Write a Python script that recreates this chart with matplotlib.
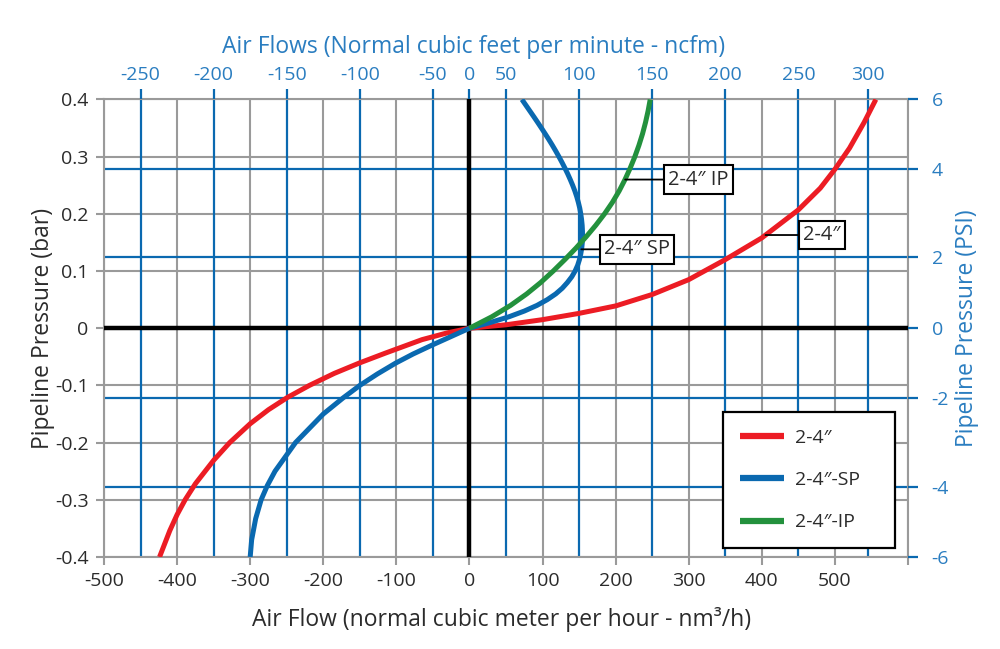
import matplotlib
matplotlib.use("Agg")
import matplotlib.pyplot as plt

plt.rcParams['font.family'] = ['Open Sans', 'DejaVu Sans']

# ---- data (flow in nm3/h, pressure in bar) ----
red_f = [-424, -417, -410, -400, -389, -375, -350, -328, -300, -275, -249, -219, -185, -151, -115, -65, -30,
         0, 50, 100, 150, 200, 250, 300, 350, 400, 450, 480, 500, 520, 540, 556]
red_p = [-0.4, -0.377, -0.354, -0.326, -0.3, -0.272, -0.231, -0.2, -0.167, -0.1425, -0.121, -0.1, -0.079,
         -0.061, -0.0435, -0.02, -0.008, 0, 0.006, 0.015, 0.026, 0.039, 0.059, 0.085, 0.12, 0.158, 0.207,
         0.245, 0.278, 0.315, 0.36, 0.4]

blue_p = [-0.4, -0.37, -0.333, -0.3, -0.275, -0.25, -0.2, -0.15, -0.122, -0.1, -0.08, -0.061, -0.045,
          -0.03, -0.015, 0, 0.01, 0.02, 0.03, 0.04, 0.05, 0.06, 0.07, 0.08, 0.09, 0.1, 0.11, 0.12,
          0.13, 0.14, 0.15, 0.16, 0.17, 0.18, 0.19, 0.2, 0.21, 0.22, 0.23, 0.24, 0.25, 0.26, 0.27,
          0.28, 0.29, 0.3, 0.31, 0.32, 0.33, 0.34, 0.35, 0.36, 0.37, 0.38, 0.39, 0.4]
blue_f = [-300, -298, -292.5, -285, -276.5, -266, -238, -200, -173, -150, -126, -101, -77,
          -52, -26, 0, 28.5, 54, 75, 92.5, 106.5, 118, 127, 134, 140, 144.5, 148, 150.5,
          152.3, 153.6, 154.4, 154.7, 154.6, 154.2, 153.4, 152.3, 150.9, 149, 146.8, 144.2, 141.2, 137.9, 134.4,
          130.6, 126.6, 122.4, 118, 113.4, 108.6, 103.6, 98.5, 93.3, 88, 82.6, 77.2, 71.8]

green_p = [0, 0.02, 0.04, 0.06, 0.08, 0.1, 0.12, 0.14, 0.16, 0.18, 0.2, 0.22, 0.24, 0.26, 0.28,
           0.3, 0.32, 0.34, 0.36, 0.38, 0.4]
green_f = [0, 30.5, 56.3, 78.3, 97.5, 114.6, 130.5, 145.6, 159.7, 172.8, 184.8, 195.5, 204.8, 212.8, 219.9,
           226.3, 231.9, 236.8, 240.9, 244.4, 247.3]

series_names = ['2-4\u2033', '2-4\u2033-SP', '2-4\u2033-IP']
label_texts = ['2-4\u2033', '2-4\u2033 SP', '2-4\u2033 IP']

x_ticks = [-500, -400, -300, -200, -100, 0, 100, 200, 300, 400, 500, 600]
x_labels = ['-500', '-400', '-300', '-200', '-100', '0', '100', '200', '300', '400', '500', '']
y_ticks = [-0.4, -0.3, -0.2, -0.1, 0, 0.1, 0.2, 0.3, 0.4]
y_labels = ['-0.4', '-0.3', '-0.2', '-0.1', '0', '0.1', '0.2', '0.3', '0.4']

# secondary scales as drawn on the chart
ncfm_pos = [-450, -350, -250, -150, -50, 0, 50, 150, 250, 350, 450, 545]
ncfm_labels = ['-250', '-200', '-150', '-100', '-50', '0', '50', '100', '150', '200', '250', '300']
psi_pos = [-0.4, -0.278, -0.1225, 0, 0.125, 0.279, 0.4]
psi_labels = ['-6', '-4', '-2', '0', '2', '4', '6']

RED = '#ec1c24'
BLUE = '#0a69b0'
GREEN = '#23913d'
GRAY = '#9a9a9a'
BLUE_TXT = '#2a7dc0'
TXT = '#2b2b2b'
FS_TICK = 14
FS_LAB = 16.5

fig = plt.figure(figsize=(10, 6.49), dpi=100)
ax = fig.add_axes([0.104, 0.1418, 0.804, 0.7049])
ax.set_xlim(-500, 600)
ax.set_ylim(-0.4, 0.4)

# gray grid
for xv in x_ticks:
    ax.axvline(xv, color=GRAY, lw=1.5, zorder=1)
for yv in y_ticks:
    ax.axhline(yv, color=GRAY, lw=1.5, zorder=1)
# blue grid
for xv in ncfm_pos:
    if xv != 0:
        ax.axvline(xv, color=BLUE, lw=1.6, zorder=2)
for yv in psi_pos:
    if yv not in (0, 0.4, -0.4):
        ax.axhline(yv, color=BLUE, lw=1.6, zorder=2)
# black axes lines
ax.axvline(0, color='black', lw=3.2, zorder=3)
ax.axhline(0, color='black', lw=3.2, zorder=3)

kw = dict(lw=3.6, zorder=5, solid_capstyle='butt', solid_joinstyle='round')
ax.plot(red_f, red_p, color=RED, label=series_names[0], **kw)
ax.plot(blue_f, blue_p, color=BLUE, label=series_names[1], **kw)
ax.plot(green_f, green_p, color=GREEN, label=series_names[2], **kw)

for s in ax.spines.values():
    s.set_color(GRAY)
    s.set_linewidth(1.5)

ax.set_xticks(x_ticks)
ax.set_xticklabels(x_labels)
ax.set_yticks(y_ticks)
ax.set_yticklabels(y_labels)
ax.tick_params(axis='both', direction='out', length=6, width=1.5, color=GRAY,
               labelsize=FS_TICK, labelcolor=TXT, pad=5)

ax.set_xlabel('Air Flow (normal cubic meter per hour - nm\u00b3/h)', fontsize=FS_LAB, color=TXT)
ax.xaxis.set_label_coords(0.495, -0.11)
ax.set_ylabel('Pipeline Pressure (bar)', fontsize=FS_LAB, color=TXT)
ax.yaxis.set_label_coords(-0.061, 0.5)

# top axis (ncfm)
axt = ax.twiny()
axt.set_xlim(ax.get_xlim())
axt.set_xticks(ncfm_pos)
axt.set_xticklabels(ncfm_labels)
axt.tick_params(axis='x', direction='out', length=7, width=1.6, color=BLUE,
                labelsize=FS_TICK, labelcolor=BLUE_TXT, pad=4)
axt.set_xlabel('Air Flows (Normal cubic feet per minute - ncfm)', fontsize=FS_LAB, color=BLUE_TXT)
axt.xaxis.set_label_coords(0.46, 1.102)
for s in axt.spines.values():
    s.set_visible(False)

# right axis (PSI)
axr = ax.twinx()
axr.set_ylim(ax.get_ylim())
axr.set_yticks(psi_pos)
axr.set_yticklabels(psi_labels)
axr.tick_params(axis='y', direction='out', length=7, width=1.6, color=BLUE,
                labelsize=FS_TICK, labelcolor=BLUE_TXT, pad=10)
axr.set_ylabel('Pipeline Pressure (PSI)', fontsize=FS_LAB, color=BLUE_TXT)
axr.yaxis.set_label_coords(1.058, 0.5)
for s in axr.spines.values():
    s.set_visible(False)

# callout labels
box = dict(boxstyle='square,pad=0.22', fc='white', ec='black', lw=1.5)
arrow = dict(arrowstyle='-', color='black', lw=1.3, shrinkA=0, shrinkB=0)
ax.annotate(label_texts[2], xy=(213, 0.26), xytext=(272, 0.26), ha='left', va='center',
            fontsize=14.5, color=TXT, bbox=box, arrowprops=arrow, zorder=6)
ax.annotate(label_texts[1], xy=(153, 0.138), xytext=(184, 0.138), ha='left', va='center',
            fontsize=14.5, color=TXT, bbox=box, arrowprops=arrow, zorder=6)
ax.annotate(label_texts[0], xy=(405, 0.163), xytext=(457, 0.163), ha='left', va='center',
            fontsize=14.5, color=TXT, bbox=box, arrowprops=arrow, zorder=6)

leg = ax.legend(loc='lower left', bbox_to_anchor=(0.770, 0.0197, 0.214, 0.3), mode='expand',
                fontsize=FS_TICK, frameon=True, fancybox=False, edgecolor='black', framealpha=1,
                handlelength=2.3, labelspacing=1.25, borderpad=0.85, handletextpad=0.55,
                borderaxespad=0)
leg.get_frame().set_linewidth(1.6)
for line in leg.get_lines():
    line.set_linewidth(4.5)
for t in leg.get_texts():
    t.set_color(TXT)
leg.set_zorder(10)

fig.savefig('out.png', dpi=100)
